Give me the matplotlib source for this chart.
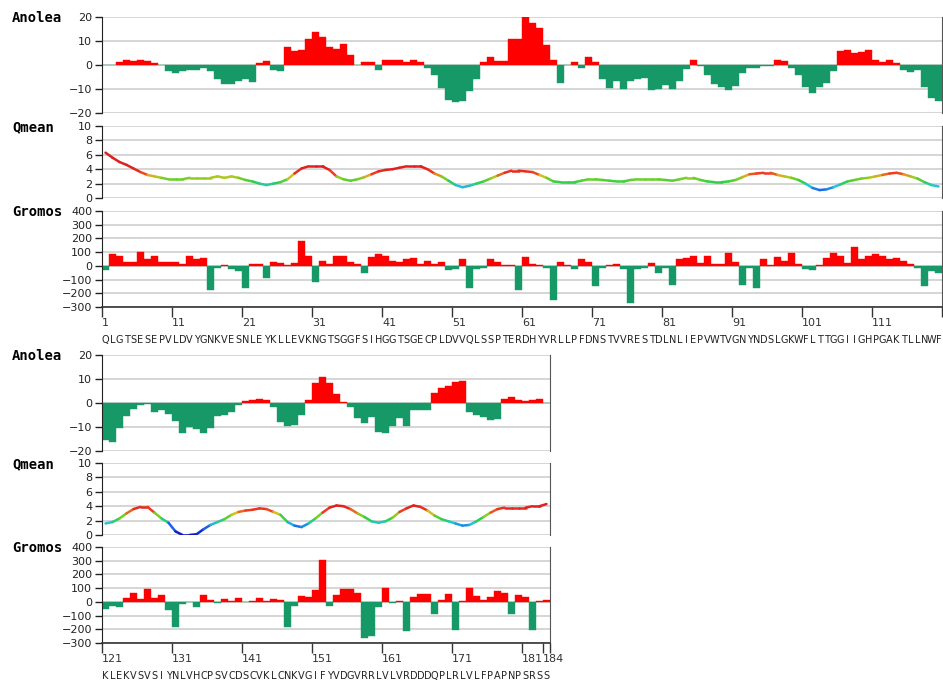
import numpy as np
import matplotlib
matplotlib.use('Agg')
import matplotlib.pyplot as plt
import matplotlib.transforms as mtransforms
from matplotlib.collections import LineCollection
from matplotlib.colors import LinearSegmentedColormap, Normalize
from matplotlib import font_manager

# residue sequence, split over two rows
seq1 = "QLGTSESEPVLDVYGNKVESNLEYKLLEVKNGTSGGFSIHGGTSGECPLDVVQLSSPTERDHYVRLLPFDNSTVVRESTDLNLIEPVWTVGNYNDSLGKWFLTTGGIIGHPGAKTLLNWF"
seq2 = "KLEKVSVSIYNLVHCPSVCDSCVKLCNKVGIFYVDGVRRLVLVRDDDQPLRLVLFPAPNPSRSS"
start1 = 1
start2 = 121

anolea1 = [-0.2, -0.2, 1.4, 2.2, 1.8, 2.2, 1.7, 0.8, -0.2, -2.6,
           -3.5, -2.5, -2.1, -2.1, -1.3, -2.5, -6.0, -7.8, -8.0, -6.7,
           -6.0, -7.0, 0.8, 1.8, -2.1, -2.6, 7.6, 5.8, 6.2, 10.7,
           13.7, 11.8, 7.6, 6.8, 8.9, 4.2, -0.2, 1.2, 1.2, -2.1,
           2.2, 2.2, 2.2, 1.2, 2.2, 1.2, -1.4, -4.0, -9.4, -14.6,
           -15.4, -15.0, -11.0, -6.0, 1.2, 3.2, 1.8, 1.8, 10.7, 10.7,
           19.9, 17.6, 15.6, 8.2, 2.2, -7.6, -0.2, 1.2, -1.1, 3.2,
           1.2, -5.7, -9.6, -6.7, -10.1, -6.7, -6.0, -5.3, -10.6, -9.9,
           -8.5, -10.1, -6.7, -1.8, 1.9, -0.4, -4.3, -7.8, -9.2, -10.6,
           -8.8, -3.2, -1.1, -1.1, -0.4, -0.4, 2.2, 1.7, -1.4, -4.3,
           -9.2, -11.8, -9.2, -7.4, -2.5, 5.7, 6.2, 5.1, 5.6, 6.2,
           2.2, 1.4, 2.2, 0.7, -2.1, -2.9, -2.1, -9.2, -13.6, -15.0]

qmean1 = [6.3, 5.6, 5.0, 4.6, 4.1, 3.6, 3.2, 3.0, 2.8, 2.6,
          2.6, 2.6, 2.8, 2.8, 2.8, 2.8, 3.0, 2.8, 3.0, 2.8,
          2.5, 2.3, 2.0, 1.8, 2.0, 2.2, 2.6, 3.4, 4.1, 4.4,
          4.4, 4.4, 3.9, 3.0, 2.6, 2.4, 2.6, 2.9, 3.3, 3.7,
          3.9, 4.0, 4.2, 4.4, 4.4, 4.4, 4.0, 3.4, 3.0, 2.4,
          1.8, 1.5, 1.7, 2.0, 2.3, 2.7, 3.1, 3.5, 3.8, 3.8,
          3.7, 3.6, 3.2, 2.8, 2.3, 2.2, 2.2, 2.2, 2.4, 2.6,
          2.6, 2.5, 2.4, 2.3, 2.3, 2.5, 2.6, 2.6, 2.6, 2.6,
          2.5, 2.4, 2.6, 2.8, 2.8, 2.5, 2.3, 2.2, 2.2, 2.3,
          2.5, 2.9, 3.3, 3.4, 3.5, 3.5, 3.2, 3.0, 2.8, 2.5,
          2.0, 1.4, 1.1, 1.2, 1.5, 1.9, 2.3, 2.5, 2.7, 2.8,
          3.0, 3.2, 3.4, 3.5, 3.3, 3.0, 2.7, 2.2, 1.8, 1.6]

gromos1 = [-30, 85, 75, 28, 28, 100, 48, 75, 28, 28,
           28, 10, 75, 48, 55, -175, -15, 5, -20, -40,
           -165, 15, 15, -90, 30, 20, 5, 20, 180, 75,
           -120, 38, 12, 75, 75, 28, 15, -50, 65, 85,
           75, 38, 28, 48, 55, 10, 38, 15, 28, -32,
           -20, 48, -165, -20, -12, 48, 28, 5, 5, -175,
           65, 15, 5, -12, -250, 28, 5, -20, 48, 28,
           -145, -12, 5, 12, -20, -270, -20, -12, 20, -50,
           -12, -140, 48, 55, 75, 20, 75, 15, 15, 92,
           28, -140, -12, -165, 48, 5, 65, 38, 92, 15,
           -20, -32, 5, 55, 92, 75, 20, 138, 48, 75,
           85, 75, 48, 55, 38, 15, -12, -145, -40, -50]

anolea2 = [-15.6, -16.3, -10.5, -5.5, -2.4, -0.8, -0.5, -3.8, -3.0, -4.4,
           -7.5, -12.5, -10.1, -10.8, -12.5, -10.5, -5.5, -5.1, -3.9, -0.7,
           0.7, 1.3, 1.7, 1.1, -1.8, -7.9, -9.4, -9.0, -5.1, 1.1,
           8.3, 10.7, 8.3, 3.7, 0.6, -1.8, -6.3, -8.3, -5.9, -12.0,
           -12.5, -9.6, -6.3, -9.4, -3.0, -3.0, -3.0, 4.2, 6.2, 7.2,
           8.7, 9.3, -3.9, -4.9, -5.9, -6.9, -6.5, 1.7, 2.7, 1.1,
           0.7, 1.3, 1.7, -0.1]

qmean2 = [1.6, 1.8, 2.3, 3.0, 3.6, 3.9, 3.9, 3.1, 2.3, 1.7,
          0.5, 0.0, 0.0, 0.1, 0.8, 1.4, 1.8, 2.2, 2.8, 3.2,
          3.4, 3.5, 3.7, 3.6, 3.2, 2.8, 1.8, 1.3, 1.1, 1.6,
          2.3, 3.1, 3.8, 4.1, 4.0, 3.6, 3.0, 2.5, 1.9, 1.7,
          1.9, 2.4, 3.2, 3.7, 4.1, 3.9, 3.4, 2.7, 2.2, 1.9,
          1.6, 1.3, 1.4, 1.9, 2.5, 3.1, 3.6, 3.8, 3.8, 3.8,
          3.8, 4.0, 4.0, 4.3]

gromos2 = [-55, -30, -37, 30, 65, 20, 95, 30, 50, -60,
           -185, -15, -3, -35, 50, 12, -10, 20, 5, 30,
           -3, 5, 30, 5, 22, 12, -185, -28, 40, 32,
           83, 302, -28, 48, 93, 93, 66, -263, -246, -37,
           100, -10, 5, -212, 32, 59, 59, -88, 12, 59,
           -202, 5, 100, 41, 12, 32, 76, 66, -88, 49,
           32, -202, 5, 12]

RED = '#ff0000'
GREEN = '#169966'
GRID = '#d2d2d2'
W, H = 943, 682

# narrow face for the one-letter codes if it is there
names = {f.name for f in font_manager.fontManager.ttflist}
SEQFONT = 'Liberation Sans Narrow' if 'Liberation Sans Narrow' in names else 'DejaVu Sans'
SEQSIZE = 8.5 if SEQFONT != 'DejaVu Sans' else 7

qcmap = LinearSegmentedColormap.from_list('qmean', [
    (0.0, '#1010b8'), (0.25, '#1a50ee'), (0.42, '#22c6d8'), (0.55, '#2ed048'),
    (0.68, '#78d022'), (0.76, '#d8c020'), (0.86, '#f03c20'), (1.0, '#e02020')])
qnorm = Normalize(0, 4)

fig = plt.figure(figsize=(W / 100, H / 100), dpi=100)


def rect(left, top, right, bottom):
    return [left / W, 1 - bottom / H, (right - left) / W, (bottom - top) / H]


def style(ax, name, ticks):
    ax.set_yticks(ticks)
    ax.set_ylim(ticks[0], ticks[-1])
    for t in ticks:
        ax.axhline(t, color=GRID, lw=1.3, zorder=0)
    ax.spines['top'].set_visible(False)
    ax.spines['bottom'].set_visible(False)
    ax.spines['left'].set_color('#222222')
    ax.spines['right'].set_color('#555555')
    ax.tick_params(axis='y', labelsize=8, length=5, width=1, pad=2, colors='#222222')
    ax.tick_params(axis='x', bottom=False, labelbottom=False)
    tr = mtransforms.blended_transform_factory(fig.transFigure, ax.transAxes)
    ax.text(12 / W, 0.985, name, transform=tr, ha='left', va='center',
            family='DejaVu Sans Mono', weight='bold', fontsize=10)


def bars(ax, x, vals):
    cols = [RED if v > 0 else GREEN for v in vals]
    ax.bar(x, vals, width=1.0, color=cols, edgecolor=cols, linewidth=0.3, zorder=2)


def draw_row(seq, start, anolea, qmean, gromos, tops):
    n = len(seq)
    x = np.arange(start, start + n)
    x0, x1 = start - 0.5, start + n - 0.5
    right = 102 + 7 * n

    a1 = fig.add_axes(rect(102, tops[0], right, tops[0] + 96))
    bars(a1, x, anolea)
    style(a1, 'Anolea', [-20, -10, 0, 10, 20])
    a1.set_xlim(x0, x1)

    a2 = fig.add_axes(rect(102, tops[1], right, tops[1] + 72))
    pts = np.column_stack([x, qmean])
    segs = np.stack([pts[:-1], pts[1:]], axis=1)
    mid = (np.array(qmean[:-1]) + np.array(qmean[1:])) / 2
    lc = LineCollection(segs, colors=qcmap(qnorm(mid)), linewidths=1.8,
                        capstyle='round', zorder=2)
    a2.add_collection(lc)
    style(a2, 'Qmean', [0, 2, 4, 6, 8, 10])
    a2.set_xlim(x0, x1)

    a3 = fig.add_axes(rect(102, tops[2], right, tops[2] + 96))
    bars(a3, x, gromos)
    style(a3, 'Gromos', [-300, -200, -100, 0, 100, 200, 300, 400])
    a3.set_xlim(x0, x1)
    a3.spines['bottom'].set_visible(True)
    a3.spines['bottom'].set_color('#333333')
    a3.spines['bottom'].set_linewidth(1.2)

    # ticks every ten residues, label starting at the residue cell
    nums = list(range(start, start + n, 10))
    if start > 1:
        nums.append(start + n - 1)
    pos = [v - 0.5 for v in nums] + [x1]
    labs = [str(v) for v in nums] + ['']
    a3.set_xticks(pos)
    a3.set_xticklabels(labs, ha='left')
    a3.tick_params(axis='x', bottom=True, labelbottom=True, length=7, width=1,
                   colors='#333333', labelsize=8, pad=1)

    tr = mtransforms.blended_transform_factory(a3.transData, a3.transAxes)
    for i, ch in enumerate(seq):
        a3.text(start + i, -0.34, ch, transform=tr, ha='center', va='center',
                family=SEQFONT, fontsize=SEQSIZE, color='#222222')


draw_row(seq1, start1, anolea1, qmean1, gromos1, (17, 126, 211))
draw_row(seq2, start2, anolea2, qmean2, gromos2, (355, 463, 547))

plt.savefig('out.png', dpi=100)
